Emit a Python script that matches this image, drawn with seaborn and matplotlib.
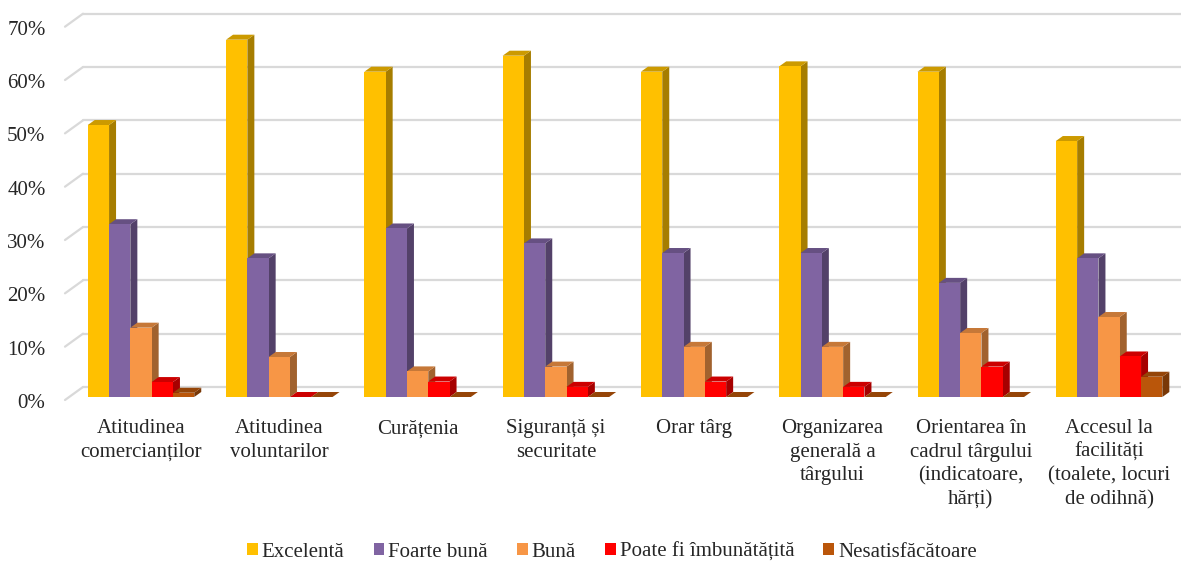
import numpy as np
import pandas as pd
import seaborn as sns
import matplotlib.pyplot as plt
import matplotlib.colors as mcolors
from matplotlib.patches import Polygon, Patch
from matplotlib.lines import Line2D
from matplotlib.transforms import IdentityTransform, ScaledTranslation
from matplotlib.ticker import PercentFormatter

# Date (procente)
categorii = [
    "Atitudinea\ncomercianților",
    "Atitudinea\nvoluntarilor",
    "Curățenia",
    "Siguranță și\nsecuritate",
    "Orar târg",
    "Organizarea\ngenerală a\ntârgului",
    "Orientarea în\ncadrul târgului\n(indicatoare,\nhărți)",
    "Accesul la\nfacilități\n(toalete, locuri\nde odihnă)",
]
serii = ["Excelentă", "Foarte bună", "Bună", "Poate fi îmbunătățită", "Nesatisfăcătoare"]
excelenta = [51, 67, 61, 64, 61, 62, 61, 48]
foarte_buna = [32.4, 26, 31.6, 28.8, 27, 27, 21.4, 26]
buna = [13, 7.5, 4.8, 5.7, 9.4, 9.4, 12, 15]
poate_fi = [2.8, 0, 2.9, 1.9, 2.9, 1.9, 5.7, 7.6]
nesatisfacatoare = [0.8, 0, 0, 0, 0, 0, 0, 3.8]
culori = ["#FFC000", "#8064A2", "#F79646", "#FF0000", "#BA560A"]

valori = [excelenta, foarte_buna, buna, poate_fi, nesatisfacatoare]
df = pd.DataFrame(
    [(c, s, v) for s, vals in zip(serii, valori) for c, v in zip(categorii, vals)],
    columns=["categorie", "serie", "procent"],
)

sns.set_style("white")
plt.rcParams["font.family"] = ["Liberation Serif", "DejaVu Serif"]
plt.rcParams["font.size"] = 15

W, H = 1181, 563
fig = plt.figure(figsize=(W / 100, H / 100), dpi=100)
# zona graficului in pixeli: stanga 65, baza barelor la y=397, 70% la 373 px mai sus
ax = fig.add_axes([65 / W, (H - 397) / H, (W - 65) / W, 373.3 / H])

sns.barplot(
    data=df, x="categorie", y="procent", hue="serie",
    palette=dict(zip(serii, culori)), hue_order=serii, order=categorii,
    width=0.77, gap=0, saturation=1, errorbar=None, legend=False, ax=ax,
)

pas = 138.3  # pixeli pe categorie
ax.set_xlim(-(141 - 65) / pas, (W - 141) / pas)
ax.set_ylim(0, 70)
ax.set_xlabel("")
ax.set_ylabel("")
sns.despine(ax=ax, left=True, bottom=True)
ax.set_yticks(range(0, 71, 10))
ax.yaxis.set_major_formatter(PercentFormatter(decimals=0))
ax.tick_params(axis="y", length=0, pad=14)
ax.tick_params(axis="x", length=0, pad=16)
for lbl in ax.get_xticklabels():
    lbl.set_linespacing(1.32)
# etichetele axei Y sunt aliniate cu marginea din fata a peretelui (putin mai jos)
for lbl in ax.get_yticklabels():
    lbl.set_transform(lbl.get_transform() + ScaledTranslation(0, -4 / 100, fig.dpi_scale_trans))

# pereti: linii de grila pe peretele din spate + diagonale pe peretele lateral
gri = "#D9D9D9"
for v in range(0, 71, 10):
    (xf, yf), = ax.transData.transform([(ax.get_xlim()[0], v)])
    ax.add_line(Line2D([xf, xf + 18], [yf - 3, yf + 10], color=gri, lw=1.6,
                       transform=IdentityTransform(), clip_on=False, zorder=1))
    ax.add_line(Line2D([xf + 18, W + 10], [yf + 10, yf + 10], color=gri, lw=1.6,
                       transform=IdentityTransform(), clip_on=False, zorder=1))

# efect 3D: fete laterale si superioare
dx, dy = 7, 5


def umbra(c, f):
    r, g, b, _ = mcolors.to_rgba(c)
    return (r * f, g * f, b * f)


bare = sorted(ax.patches, key=lambda p: p.get_x())
for i, p in enumerate(bare):
    x0, y0, w, h = p.get_x(), p.get_y(), p.get_width(), p.get_height()
    (X0, Y0), (X1, Y1) = ax.transData.transform([(x0, y0), (x0 + w, y0 + h)])
    fc = p.get_facecolor()
    z = 2 + i * 0.01
    lat = Polygon([(X1, Y0), (X1 + dx, Y0 + dy), (X1 + dx, Y1 + dy), (X1, Y1)],
                  closed=True, facecolor=umbra(fc, 0.65), edgecolor="none",
                  transform=IdentityTransform(), clip_on=False, zorder=z)
    sus = Polygon([(X0, Y1), (X0 + dx, Y1 + dy), (X1 + dx, Y1 + dy), (X1, Y1)],
                  closed=True, facecolor=umbra(fc, 0.8), edgecolor="none",
                  transform=IdentityTransform(), clip_on=False, zorder=z)
    ax.add_patch(lat)
    ax.add_patch(sus)
    p.set_zorder(z + 0.005)
    p.set_edgecolor("none")

handles = [Patch(facecolor=c, edgecolor="none", label=s) for s, c in zip(serii, culori)]
fig.legend(handles=handles, loc="center", bbox_to_anchor=(612 / W, 1 - 552 / H),
           ncol=5, frameon=False, fontsize=15, handlelength=0.5, handleheight=0.5,
           handletextpad=0.2, columnspacing=1.4, borderpad=0)

fig.savefig("out.png", dpi=100, facecolor="white")
